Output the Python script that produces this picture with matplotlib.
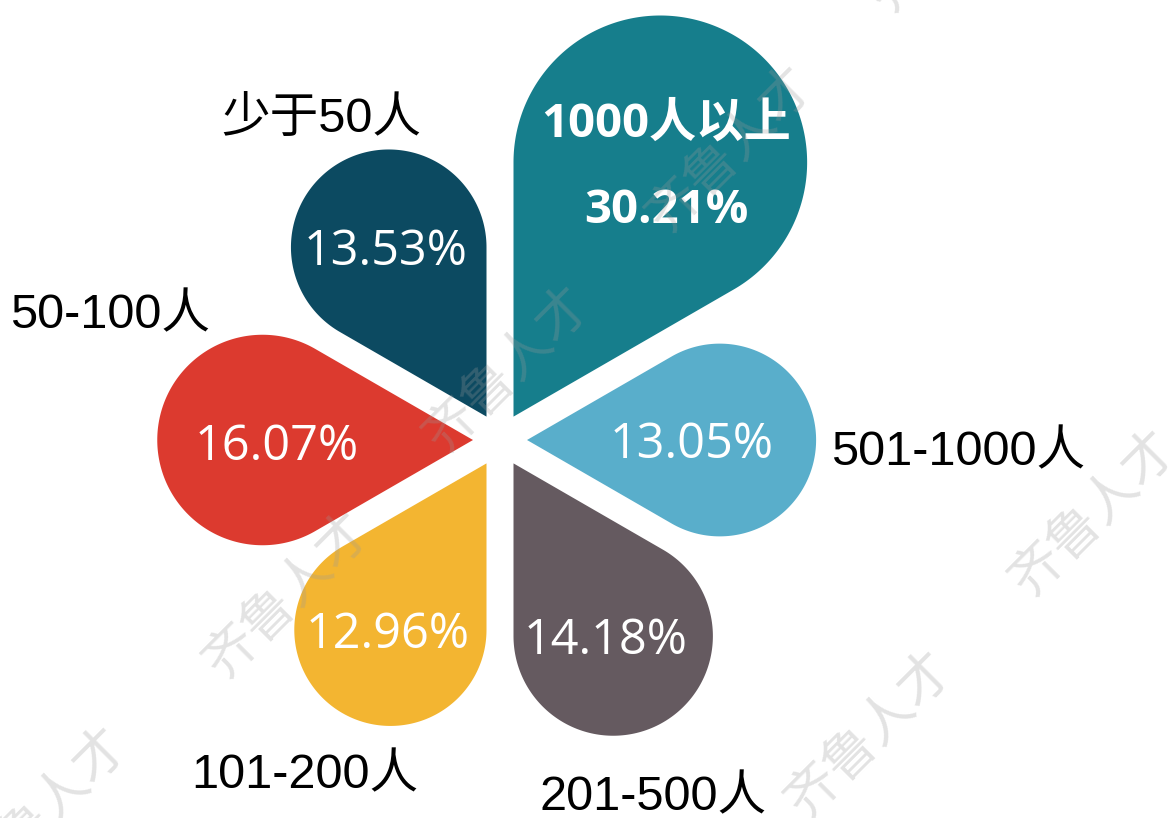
import numpy as np
import matplotlib.pyplot as plt
from matplotlib.patches import Polygon

plt.rcParams['font.family'] = ['Liberation Sans', 'Noto Sans CJK SC']

# share of companies by staff size (%)
categories = ['少于50人', '50-100人', '101-200人', '201-500人', '501-1000人', '1000人以上']
shares = [13.53, 16.07, 12.96, 14.18, 13.05, 30.21]
colors = ['#0c4a61', '#dc3a2f', '#f3b531', '#655a60', '#59aecb', '#167e8c']
petal_angles = [120, 180, 240, 300, 0, 60]

# layout (pixels, figure is 1176 x 818)
center = (500, 440)
gap = 27
label_pos = [(321, 132), (110, 328), (305, 788), (653, 810), (958, 465), None]
pct_shift = [(-3, 18), (14, 20), (-3, 18), (-8, 18), (-28, 18), (6, 0)]
watermarks = [(508, 370), (731, 150), (1094, 514), (288, 596), (870, 735), (45, 811), (953, -70)]


def petal_radius(v):
    return 58 + 2.94 * v


def petal_shape(theta, r):
    t = np.radians(theta)
    ux, uy = np.cos(t), -np.sin(t)
    px, py = center[0] + gap * ux, center[1] + gap * uy
    ox, oy = px + 2 * r * ux, py + 2 * r * uy
    a = np.radians(np.linspace(theta + 120, theta - 120, 240))
    pts = [(px, py)] + list(zip(ox + r * np.cos(a), oy - r * np.sin(a)))
    return pts, (ox, oy)


fig = plt.figure(figsize=(11.76, 8.18), dpi=100)
ax = fig.add_axes([0, 0, 1, 1])
ax.set_xlim(0, 1176)
ax.set_ylim(818, 0)
ax.axis('off')

pct_font = ['Open Sans', 'Noto Sans CJK SC']

for cat, v, c, th, lp, sh in zip(categories, shares, colors, petal_angles, label_pos, pct_shift):
    pts, (ox, oy) = petal_shape(th, petal_radius(v))
    ax.add_patch(Polygon(pts, closed=True, facecolor=c, edgecolor='none', zorder=2))
    tx, ty = ox + sh[0], oy + sh[1]
    if lp is None:
        ax.text(tx, ty - 26, cat, color='white', fontsize=34, fontweight='bold',
                ha='center', va='baseline', family=pct_font, zorder=3)
        ax.text(tx, ty + 61, f'{v:.2f}%', color='white', fontsize=34, fontweight='bold',
                ha='center', va='baseline', family=pct_font, zorder=3)
    else:
        ax.text(tx, ty, f'{v:.2f}%', color='white', fontsize=35,
                ha='center', va='baseline', family=pct_font, zorder=3)
        ax.text(lp[0], lp[1], cat, color='black', fontsize=35,
                ha='center', va='baseline', zorder=3)

for wx, wy in watermarks:
    ax.text(wx, wy, '齐鲁人才', color='#9a9a9a', alpha=0.28, fontsize=38, rotation=45,
            ha='center', va='center', rotation_mode='anchor',
            family=['Noto Sans CJK SC'], fontweight='light', zorder=5, clip_on=True)

fig.savefig('out.png', dpi=100)
